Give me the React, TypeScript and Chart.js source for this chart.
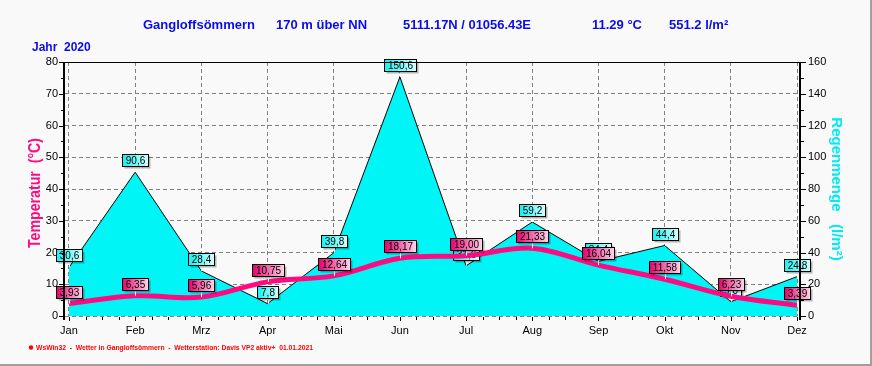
import React, { useEffect, useRef } from 'react';
import { Chart, registerables } from 'chart.js';

Chart.register(...registerables);

const months = ['Jan', 'Feb', 'Mrz', 'Apr', 'Mai', 'Jun', 'Jul', 'Aug', 'Sep', 'Okt', 'Nov', 'Dez'];
const temperature = [3.93, 6.35, 5.96, 10.75, 12.64, 18.17, 19.0, 21.33, 16.04, 11.58, 6.23, 3.39];
const rainfall = [30.6, 90.6, 28.4, 7.8, 39.8, 150.6, 31.6, 59.2, 34.4, 44.4, 9.0, 24.8];
const tempTicks = [0, 10, 20, 30, 40, 50, 60, 70, 80];
const rainTicks = [0, 20, 40, 60, 80, 100, 120, 140, 160];

const headerTexts = ['Gangloffsömmern', '170 m über NN', '5111.17N / 01056.43E', '11.29 °C', '551.2 l/m²'];
const yearText = 'Jahr  2020';
const footerText = 'WsWin32  -  Wetter in Gangloffsömmern  -  Wetterstation: Davis VP2 aktiv+  01.01.2021';
const tempTitle = 'Temperatur  (°C)';
const rainTitle = 'Regenmenge   (l/m²)';

const FONT = '"Liberation Sans", Arial, sans-serif';
const BG = '#f9f9f9';
const CYAN = '#00f6f6';
const PINK = '#ff0a80';

function drawTag(ctx: CanvasRenderingContext2D, x: number, y: number, text: string, kind: 'temp' | 'rain') {
  ctx.save();
  ctx.font = '10px ' + FONT;
  const w = Math.round(ctx.measureText(text).width) + 7;
  const h = 12;
  const bx = Math.round(x - w / 2) + 0.5;
  const by = Math.round(y - 6 - h) + 0.5;
  ctx.strokeStyle = '#ffffff';
  ctx.lineWidth = 1;
  ctx.beginPath();
  ctx.moveTo(Math.round(x) + 0.5, by + h);
  ctx.lineTo(Math.round(x) + 0.5, y);
  ctx.stroke();
  ctx.fillStyle = 'rgba(0,0,0,0.28)';
  ctx.fillRect(bx + 2, by + 2, w, h);
  const g = ctx.createLinearGradient(bx, 0, bx + w, 0);
  if (kind === 'temp') {
    g.addColorStop(0, '#e4006c');
    g.addColorStop(1, '#ffd6ea');
  } else {
    g.addColorStop(0, '#10f2f2');
    g.addColorStop(1, '#d8ffff');
  }
  ctx.fillStyle = g;
  ctx.fillRect(bx, by, w, h);
  ctx.strokeStyle = '#000000';
  ctx.strokeRect(bx, by, w, h);
  ctx.fillStyle = '#000000';
  ctx.textAlign = 'center';
  ctx.textBaseline = 'middle';
  ctx.fillText(text, bx + w / 2, by + h / 2 + 0.5);
  ctx.restore();
}

const fmt = (v: number, d: number) => v.toFixed(d).replace('.', ',');

const decor = {
  id: 'decor',
  beforeDraw(chart: any) {
    const ctx = chart.ctx as CanvasRenderingContext2D;
    ctx.save();
    ctx.fillStyle = BG;
    ctx.fillRect(0, 0, chart.width, chart.height);
    ctx.fillStyle = '#a0a0a0';
    ctx.fillRect(chart.width - 2, 0, 2, chart.height);
    ctx.fillRect(0, chart.height - 2, chart.width, 2);
    ctx.restore();
  },
  afterDatasetDraw(chart: any, args: any) {
    if (args.index !== 0) return;
    const ctx = chart.ctx as CanvasRenderingContext2D;
    const x = chart.scales.x;
    const y1 = chart.scales.y1;
    rainfall.forEach((v, i) => drawTag(ctx, x.getPixelForValue(i), y1.getPixelForValue(v), fmt(v, 1), 'rain'));
  },
  afterDatasetsDraw(chart: any) {
    const ctx = chart.ctx as CanvasRenderingContext2D;
    const x = chart.scales.x;
    const y = chart.scales.y;
    const y1 = chart.scales.y1;
    const a = chart.chartArea;
    temperature.forEach((v, i) => drawTag(ctx, x.getPixelForValue(i), y.getPixelForValue(v), fmt(v, 2), 'temp'));

    ctx.save();
    ctx.fillStyle = '#000000';
    ctx.fillRect(a.left - 2, a.top, 2, a.bottom - a.top + 4);
    ctx.fillRect(a.right - 2, a.top, 2, a.bottom - a.top + 4);
    ctx.fillRect(a.left, a.top, a.right - a.left, 1);
    for (let t = 0; t <= 80; t += 5) {
      const py = Math.round(y.getPixelForValue(t));
      const len = t % 10 === 0 ? 4 : 2;
      ctx.fillRect(a.left - 2 - len, py, len, 1);
    }
    for (let t = 0; t <= 160; t += 10) {
      const py = Math.round(y1.getPixelForValue(t));
      const len = t % 20 === 0 ? 5 : 3;
      ctx.fillRect(a.right, py, len, 1);
    }
    for (let q = 0; q <= 44; q++) {
      const px = Math.round(x.getPixelForValue(q / 4));
      const len = q % 4 === 0 ? 4 : 3;
      ctx.fillRect(px, a.bottom + 1, 1, len);
    }
    ctx.fillStyle = '#0a0aee';
    ctx.font = 'bold 13px ' + FONT;
    ctx.textBaseline = 'alphabetic';
    ctx.textAlign = 'left';
    const hx = [143, 276, 403, 592, 669];
    const hw = [112, 92, 128, 50, 60];
    headerTexts.forEach((t, i) => ctx.fillText(t, hx[i], 29, hw[i]));
    ctx.font = 'bold 12px ' + FONT;
    ctx.fillText(yearText, 32, 51, 59);
    ctx.fillStyle = '#ff0000';
    ctx.font = 'bold 7px ' + FONT;
    ctx.fillText(footerText, 36, 350, 277);
    ctx.beginPath();
    ctx.arc(31, 347.5, 2.2, 0, Math.PI * 2);
    ctx.fill();
    ctx.textAlign = 'center';
    ctx.textBaseline = 'middle';
    ctx.save();
    ctx.translate(36, 193);
    ctx.rotate(-Math.PI / 2);
    ctx.fillStyle = PINK;
    ctx.font = 'bold 16px ' + FONT;
    ctx.fillText(tempTitle, 0, 0, 110);
    ctx.restore();
    ctx.save();
    ctx.translate(836, 189);
    ctx.rotate(Math.PI / 2);
    ctx.fillStyle = '#00eaf2';
    ctx.font = 'bold 15px ' + FONT;
    ctx.fillText(rainTitle, 0, 0, 148);
    ctx.restore();
    ctx.restore();
  },
};

export default function App() {
  const ref = useRef<HTMLCanvasElement | null>(null);
  useEffect(() => {
    if (!ref.current) return;
    document.body.style.margin = '0';
    Chart.defaults.font.family = FONT;
    const chart = new Chart(ref.current, {
      type: 'line',
      data: {
        datasets: [
          {
            label: 'Regen',
            data: rainfall.map((v, i) => ({ x: i, y: v })),
            yAxisID: 'y1',
            fill: 'origin',
            backgroundColor: CYAN,
            borderColor: '#000000',
            borderWidth: 1,
            tension: 0,
            pointRadius: 0,
            order: 2,
          },
          {
            label: 'Temperatur',
            data: temperature.map((v, i) => ({ x: i, y: v })),
            yAxisID: 'y',
            fill: false,
            borderColor: PINK,
            borderWidth: 5,
            tension: 0.35,
            pointRadius: 0,
            order: 1,
          },
        ],
      },
      options: {
        responsive: false,
        animation: false,
        events: [],
        layout: { padding: { top: 62, left: 0, right: 0, bottom: 0 } },
        plugins: { legend: { display: false }, tooltip: { enabled: false }, title: { display: false } },
        scales: {
          x: {
            type: 'linear',
            min: -0.06,
            max: 11.06,
            afterBuildTicks: (s: any) => {
              s.ticks = months.map((_, i) => ({ value: i }));
            },
            afterFit: (s: any) => {
              s.height = 50;
            },
            ticks: {
              autoSkip: false,
              maxRotation: 0,
              padding: 8,
              color: '#000000',
              font: { size: 11 },
              callback: (v: any) => months[Math.round(Number(v))] ?? '',
            },
            grid: { color: '#808080', lineWidth: 1, drawTicks: false },
            border: { display: false, dash: [4, 3] },
          },
          y: {
            position: 'left',
            min: 0,
            max: 80,
            afterBuildTicks: (s: any) => {
              s.ticks = tempTicks.map((v) => ({ value: v }));
            },
            afterFit: (s: any) => {
              s.width = 65;
            },
            ticks: { padding: 7, color: '#000000', font: { size: 11 } },
            grid: { color: '#808080', lineWidth: 1, drawTicks: false },
            border: { display: false, dash: [4, 3] },
          },
          y1: {
            position: 'right',
            min: 0,
            max: 160,
            afterBuildTicks: (s: any) => {
              s.ticks = rainTicks.map((v) => ({ value: v }));
            },
            afterFit: (s: any) => {
              s.width = 71;
            },
            ticks: { padding: 7, color: '#000000', font: { size: 11 } },
            grid: { display: false, drawTicks: false },
            border: { display: false },
          },
        },
      },
      plugins: [decor],
    });
    return () => chart.destroy();
  }, []);
  return (
    <div style={{ position: 'fixed', left: 0, top: 0, width: 872, height: 366 }}>
      <canvas ref={ref} width={872} height={366} style={{ display: 'block', width: 872, height: 366 }} />
    </div>
  );
}
